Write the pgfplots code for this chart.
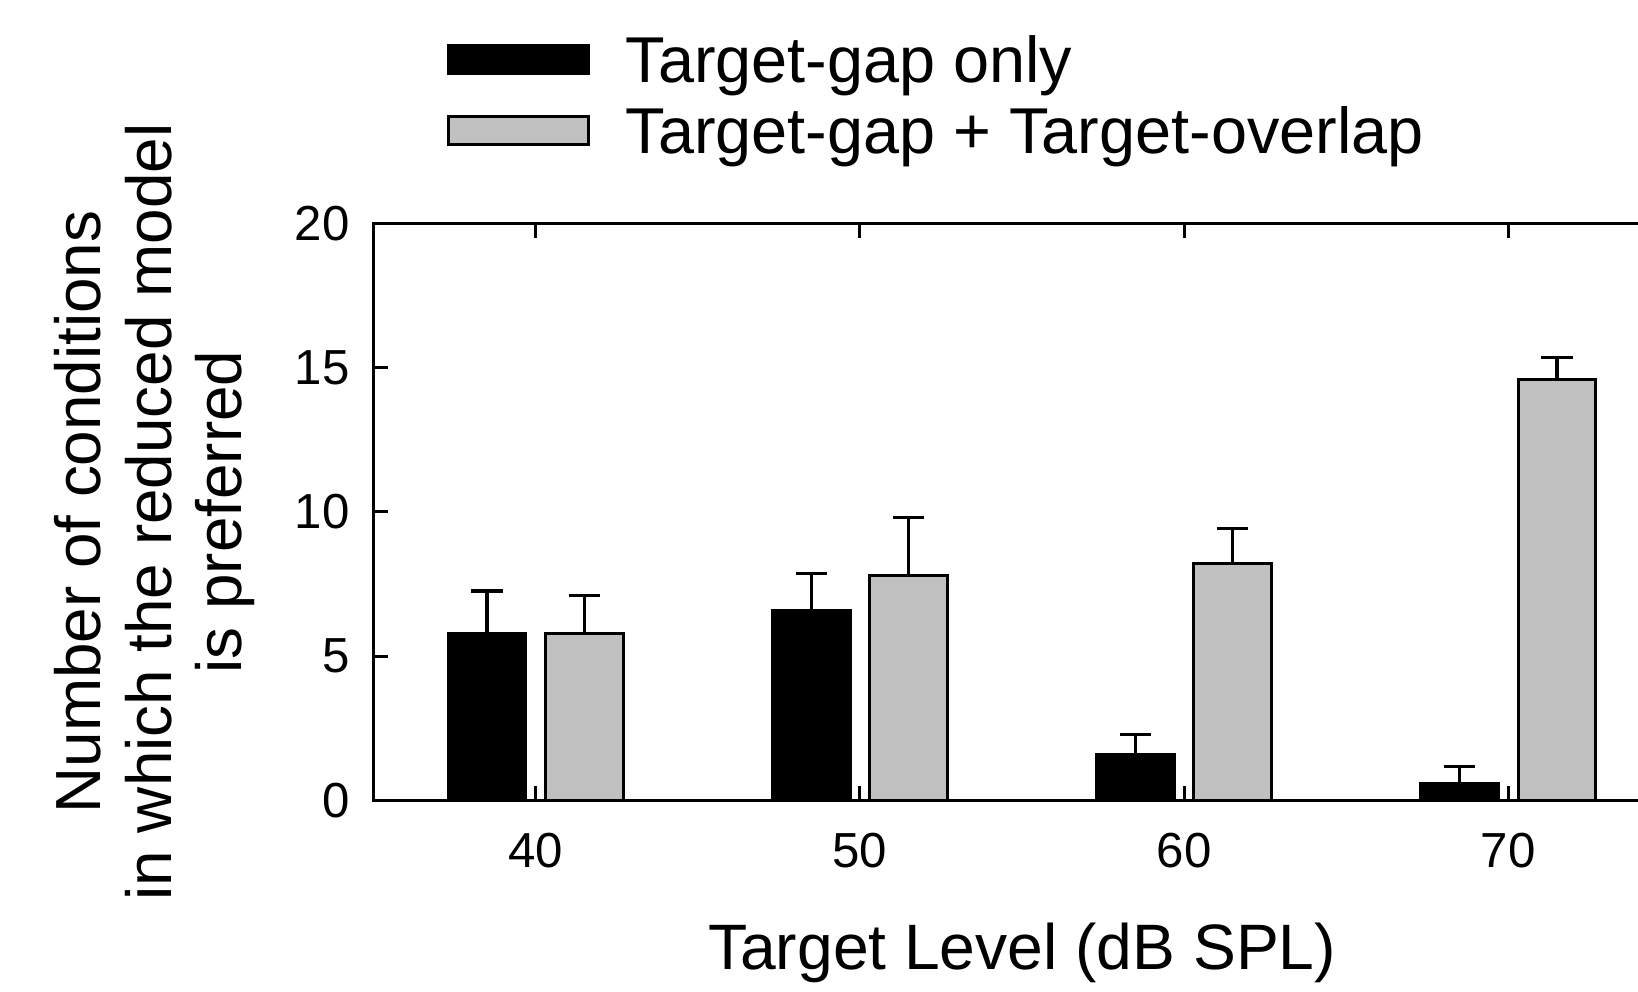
\documentclass[border=0pt]{standalone}
\usepackage{pgfplots}
\pgfplotsset{compat=1.18}
\usepackage{pgfplotstable}
\usepackage{fontspec}
\setmainfont{Liberation Sans}
\definecolor{bargray}{RGB}{192,192,192}

\pgfplotstableread{
x y e
40 5.8 1.46
50 6.6 1.28
60 1.6 0.68
70 0.6 0.57
}\gaponly
\pgfplotstableread{
x y e
40 5.8 1.30
50 7.8 2.00
60 8.2 1.24
70 14.6 0.75
}\gapoverlap

\pgfplotsset{mylegend/.style={legend image code/.code={\draw[##1] (0pt,-1.9pt) rectangle (35pt,5.1pt);}}}

\begin{document}
\begin{tikzpicture}
\useasboundingbox (-93.4pt,-47.9pt) rectangle (316.1pt,200.1pt);
\begin{axis}[
  scale only axis,
  width=316.9pt, height=144.2pt,
  xmin=35, xmax=74.1, ymin=0, ymax=20,
  ybar, bar width=2.4,
  xtick={40,50,60,70}, ytick={0,5,10,15,20},
  ytick pos=left, xtick pos=both,
  tick align=inside, xtick align=inside, ytick align=inside,
  major tick length=3.7pt,
  axis line style={line width=0.75pt},
  every tick/.style={black, line width=0.75pt},
  /pgf/number format/assume math mode=true,
  ticklabel style={font=\fontsize{12.3}{14}\selectfont},
  xticklabel style={yshift=-4.75pt},
  yticklabel style={xshift=-2.45pt},
  xlabel={Target Level (dB SPL)},
  xlabel style={at={(axis description cs:0.5116,-0.2933)}, anchor=base, font=\fontsize{16.05}{17.6}\selectfont},
  ylabel={Number of conditions\\in which the reduced model\\is preferred},
  ylabel style={at={(axis description cs:-0.1726,0.5)}, anchor=center, align=center, font=\fontsize{15.95}{17.6}\selectfont},
  legend style={at={(axis description cs:0.0571,1.33)}, anchor=north west, draw=none, fill=none, inner sep=0pt, row sep=1.75pt, column sep=9.0pt, nodes={inner sep=0pt, text height=12pt, text depth=4pt}, font=\fontsize{16.2}{17.6}\selectfont},
  legend cell align=left,
]
\addplot[fill=black, draw=black, line width=0.75pt, bar shift=-1.5, mylegend,
  error bars/.cd, y dir=plus, y explicit,
  error bar style={line width=0.8pt, black},
  error mark options={rotate=90, line width=0.8pt, mark size=3.9pt, black}]
  table[x=x, y=y, y error=e]{\gaponly};
\addplot[fill=bargray, draw=black, line width=0.75pt, bar shift=1.5, mylegend,
  error bars/.cd, y dir=plus, y explicit,
  error bar style={line width=0.8pt, black},
  error mark options={rotate=90, line width=0.8pt, mark size=3.9pt, black}]
  table[x=x, y=y, y error=e]{\gapoverlap};
\legend{Target-gap only, Target-gap + Target-overlap}
\end{axis}
\end{tikzpicture}
\end{document}
